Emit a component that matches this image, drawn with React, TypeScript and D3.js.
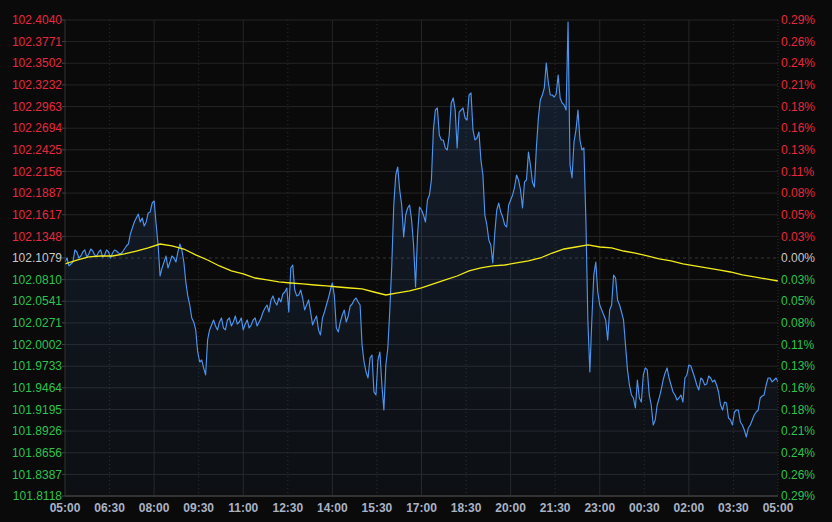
import * as d3 from "d3"

// price axis labels (top to bottom), baseline = previous close
const priceTicks = [
  102.404, 102.3771, 102.3502, 102.3232, 102.2963, 102.2694, 102.2425, 102.2156, 102.1887, 102.1617, 102.1348, 102.1079,
  102.081, 102.0541, 102.0271, 102.0002, 101.9733, 101.9464, 101.9195, 101.8926, 101.8656, 101.8387, 101.8118,
]
const pctTicks = [
  "0.29%", "0.26%", "0.24%", "0.21%", "0.18%", "0.16%", "0.13%", "0.11%", "0.08%", "0.05%", "0.03%", "0.00%",
  "0.03%", "0.05%", "0.08%", "0.11%", "0.13%", "0.16%", "0.18%", "0.21%", "0.24%", "0.26%", "0.29%",
]
const baseline = 102.1079
const timeLabels = [
  "05:00", "06:30", "08:00", "09:30", "11:00", "12:30", "14:00", "15:30", "17:00",
  "18:30", "20:00", "21:30", "23:00", "00:30", "02:00", "03:30", "05:00",
]

// one value every 4 minutes from 05:00
const priceStepMin = 4
const prices = [
  102.1029, 102.1079, 102.098, 102.1004, 102.1029, 102.1179, 102.1154, 102.1079, 102.1104, 102.1154,
  102.1179, 102.1091, 102.1129, 102.1191, 102.1166, 102.1116, 102.1104, 102.1154, 102.1179, 102.1091,
  102.1116, 102.1179, 102.1154, 102.1079, 102.1141, 102.1179, 102.1166, 102.1141, 102.1129, 102.1154,
  102.1191, 102.1228, 102.1253, 102.1378, 102.1452, 102.1527, 102.1577, 102.1626, 102.1527, 102.1577,
  102.1477, 102.1527, 102.1639, 102.1651, 102.1763, 102.1788, 102.1502, 102.1241, 102.0855, 102.0955,
  102.1029, 102.1104, 102.0955, 102.1029, 102.1104, 102.1079, 102.1029, 102.1154, 102.1253, 102.1179,
  102.1029, 102.078, 102.0607, 102.0494, 102.0333, 102.0283, 102.0184, 101.991, 101.9785, 101.981,
  101.9711, 101.9624, 102.0059, 102.0184, 102.0246, 102.0308, 102.0233, 102.0184, 102.0283, 102.0333,
  102.0208, 102.0184, 102.0308, 102.0333, 102.0233, 102.0283, 102.0358, 102.0258, 102.0283, 102.0333,
  102.0184, 102.0258, 102.0308, 102.0208, 102.0246, 102.0308, 102.0333, 102.0233, 102.0283, 102.0333,
  102.0407, 102.0457, 102.0494, 102.0407, 102.0557, 102.0607, 102.0532, 102.0494, 102.0581, 102.0532,
  102.0631, 102.0656, 102.0706, 102.0407, 102.0955, 102.0992, 102.0681, 102.0607, 102.0619, 102.0681,
  102.0581, 102.0432, 102.0494, 102.0557, 102.0407, 102.0246, 102.0308, 102.0358, 102.0184, 102.0121,
  102.0333, 102.0407, 102.0494, 102.0581, 102.0681, 102.0768, 102.0607, 102.0208, 102.0159, 102.0283,
  102.037, 102.0432, 102.0283, 102.0358, 102.0482, 102.0507, 102.0557, 102.0581, 102.0532, 102.0494,
  101.9997, 101.9785, 101.9661, 101.9586, 101.9835, 101.9872, 101.9412, 101.9375, 101.981, 101.991,
  101.9499, 101.9188, 101.9748, 101.996, 102.0432, 102.0992, 102.1738, 102.2112, 102.2211, 102.1925,
  102.1738, 102.134, 102.1614, 102.1701, 102.1738, 102.1552, 102.1241, 102.0718, 102.1365, 102.1714,
  102.1676, 102.1614, 102.1527, 102.1801, 102.1863, 102.2049, 102.2672, 102.292, 102.2945, 102.2609,
  102.2547, 102.2547, 102.2448, 102.2423, 102.2609, 102.3007, 102.307, 102.292, 102.2448, 102.2895,
  102.292, 102.2945, 102.2821, 102.2796, 102.3107, 102.3132, 102.2672, 102.2547, 102.2572, 102.2647,
  102.2298, 102.2112, 102.1614, 102.149, 102.1303, 102.1241, 102.1017, 102.139, 102.1676, 102.1763,
  102.1651, 102.1589, 102.149, 102.1465, 102.1738, 102.1801, 102.1863, 102.1962, 102.2112, 102.2049,
  102.1925, 102.1701, 102.2025, 102.2049, 102.2398, 102.2236, 102.2025, 102.1962, 102.2448, 102.2821,
  102.3045, 102.3107, 102.3194, 102.3505, 102.3269, 102.3107, 102.3107, 102.3082, 102.3119, 102.3356,
  102.307, 102.3007, 102.2983, 102.292, 102.4015, 102.2236, 102.2074, 102.2522, 102.2672, 102.292,
  102.2547, 102.2423, 102.2448, 102.1552, 102.0308, 101.9661, 102.0308, 102.0868, 102.1029, 102.0656,
  102.0494, 102.0432, 102.037, 102.0308, 102.0059, 102.0432, 102.0494, 102.0868, 102.083, 102.0557,
  102.0494, 102.0407, 102.0308, 101.9997, 101.9686, 101.9499, 101.9375, 101.9337, 101.9213, 101.9561,
  101.9337, 101.9287, 101.9624, 101.9711, 101.9686, 101.9375, 101.925, 101.9002, 101.9064, 101.925,
  101.9337, 101.9437, 101.9561, 101.9649, 101.9711, 101.9586, 101.9499, 101.9412, 101.9375, 101.9312,
  101.9337, 101.9375, 101.9287, 101.9586, 101.9624, 101.9748, 101.9736, 101.9661, 101.9586, 101.9499,
  101.9437, 101.9586, 101.9561, 101.9499, 101.9512, 101.9611, 101.9586, 101.9537, 101.9561, 101.9499,
  101.9412, 101.925, 101.9188, 101.9287, 101.9275, 101.9088, 101.9064, 101.9002, 101.9163, 101.9188,
  101.9188, 101.9039, 101.9002, 101.8939, 101.8852, 101.8964, 101.9002, 101.9064, 101.9126, 101.9163,
  101.9188, 101.9337, 101.9362, 101.9375, 101.9499, 101.9586, 101.9586, 101.9537, 101.9561, 101.9586,
  101.9537,
]

// average price, one value every 24 minutes
const avgStepMin = 24
const avgPrices = [
  102.1005, 102.1054, 102.1092, 102.1104, 102.1104, 102.1129, 102.1166, 102.1204, 102.1253, 102.1229,
  102.1191, 102.1117, 102.1054, 102.098, 102.0918, 102.088, 102.083, 102.0806, 102.0781, 102.0768,
  102.0756, 102.0743, 102.0731, 102.0718, 102.0706, 102.0694, 102.0656, 102.0619, 102.0644, 102.0669,
  102.0706, 102.0756, 102.0806, 102.0855, 102.0918, 102.0955, 102.098, 102.0992, 102.1017, 102.1042,
  102.1079, 102.1141, 102.1191, 102.1216, 102.1241, 102.1216, 102.1204, 102.1166, 102.1141, 102.1104,
  102.1067, 102.1042, 102.1005, 102.098, 102.0955, 102.093, 102.0905, 102.0868, 102.0843, 102.0818,
  102.0793,
]

const W = 832
const H = 522
const margin = { top: 20, right: 54, bottom: 26, left: 65 }
const FONT = "Arial, 'Liberation Sans', sans-serif"

export default function App() {
  const innerW = W - margin.left - margin.right
  const innerH = H - margin.top - margin.bottom

  const x = d3.scaleLinear().domain([0, 1440]).range([margin.left, margin.left + innerW])
  const y = d3
    .scaleLinear()
    .domain([priceTicks[priceTicks.length - 1], priceTicks[0]])
    .range([margin.top + innerH, margin.top])

  const line = d3
    .line<number>()
    .x((_, i) => x(i * priceStepMin))
    .y((d) => y(d))
  const area = d3
    .area<number>()
    .x((_, i) => x(i * priceStepMin))
    .y0(margin.top + innerH)
    .y1((d) => y(d))
  const avgLine = d3
    .line<number>()
    .x((_, i) => x(i * avgStepMin))
    .y((d) => y(d))

  const colorFor = (v: number) => (Math.abs(v - baseline) < 1e-6 ? "#c8c8c8" : v > baseline ? "#e8283c" : "#2ec24e")

  return (
    <svg width={W} height={H} style={{ position: "absolute", left: 0, top: 0, display: "block", background: "#0a0a0a" }}>
      <defs>
        <linearGradient id="areaFill" x1="0" y1="0" x2="0" y2="1">
          <stop offset="0%" stopColor="#3d6fb8" stopOpacity={0.22} />
          <stop offset="100%" stopColor="#3d6fb8" stopOpacity={0.05} />
        </linearGradient>
        <clipPath id="plot">
          <rect x={margin.left} y={margin.top} width={innerW} height={innerH} />
        </clipPath>
      </defs>

      {/* horizontal grid */}
      {priceTicks.map((v, i) =>
        v === baseline ? (
          <line key={i} x1={margin.left} x2={margin.left + innerW} y1={y(v)} y2={y(v)} stroke="#363636" strokeDasharray="3,3" />
        ) : (
          <line key={i} x1={margin.left} x2={margin.left + innerW} y1={y(v)} y2={y(v)} stroke="#252525" />
        )
      )}

      {/* vertical grid */}
      {timeLabels.map((_, i) => {
        const xx = x(i * 90)
        if (i === 0 || i === timeLabels.length - 1) return null
        return i % 2 === 0 ? (
          <line key={i} x1={xx} x2={xx} y1={margin.top} y2={margin.top + innerH} stroke="#252525" />
        ) : (
          <line key={i} x1={xx} x2={xx} y1={margin.top} y2={margin.top + innerH} stroke="#2e2e2e" strokeDasharray="1,3" />
        )
      })}

      <g clipPath="url(#plot)">
        <path d={area(prices) ?? ""} fill="url(#areaFill)" />
        <path d={line(prices) ?? ""} fill="none" stroke="#4d94ee" strokeWidth={1.15} strokeLinejoin="round" />
        <path d={avgLine(avgPrices) ?? ""} fill="none" stroke="#f2ea1a" strokeWidth={1.3} />
      </g>

      {/* axis lines */}
      <line x1={margin.left} x2={margin.left} y1={margin.top} y2={margin.top + innerH} stroke="#333" />
      <line x1={margin.left + innerW} x2={margin.left + innerW} y1={margin.top} y2={margin.top + innerH} stroke="#333" strokeDasharray="1,2" />
      <line x1={margin.left} x2={margin.left + innerW} y1={margin.top + innerH} y2={margin.top + innerH} stroke="#333" strokeWidth={2} />

      {/* left labels */}
      {priceTicks.map((v, i) => (
        <g key={i}>
          <line x1={margin.left - 3} x2={margin.left} y1={y(v)} y2={y(v)} stroke="#444" />
          <text x={margin.left - 3} y={y(v)} dy="0.35em" textAnchor="end" fill={colorFor(v)} fontFamily={FONT} fontSize={12}>
            {v.toFixed(4)}
          </text>
        </g>
      ))}

      {/* right labels */}
      {pctTicks.map((t, i) => (
        <text
          key={i}
          x={margin.left + innerW + 3}
          y={y(priceTicks[i])}
          dy="0.35em"
          textAnchor="start"
          fill={colorFor(priceTicks[i])}
          fontFamily={FONT}
          fontSize={12}
        >
          {t}
        </text>
      ))}

      {/* time labels */}
      {timeLabels.map((t, i) => (
        <text
          key={i}
          x={x(i * 90)}
          y={margin.top + innerH + 16}
          textAnchor="middle"
          fill="#a9b3c6"
          fontFamily={FONT}
          fontSize={12}
          fontWeight="bold"
        >
          {t}
        </text>
      ))}
    </svg>
  )
}
